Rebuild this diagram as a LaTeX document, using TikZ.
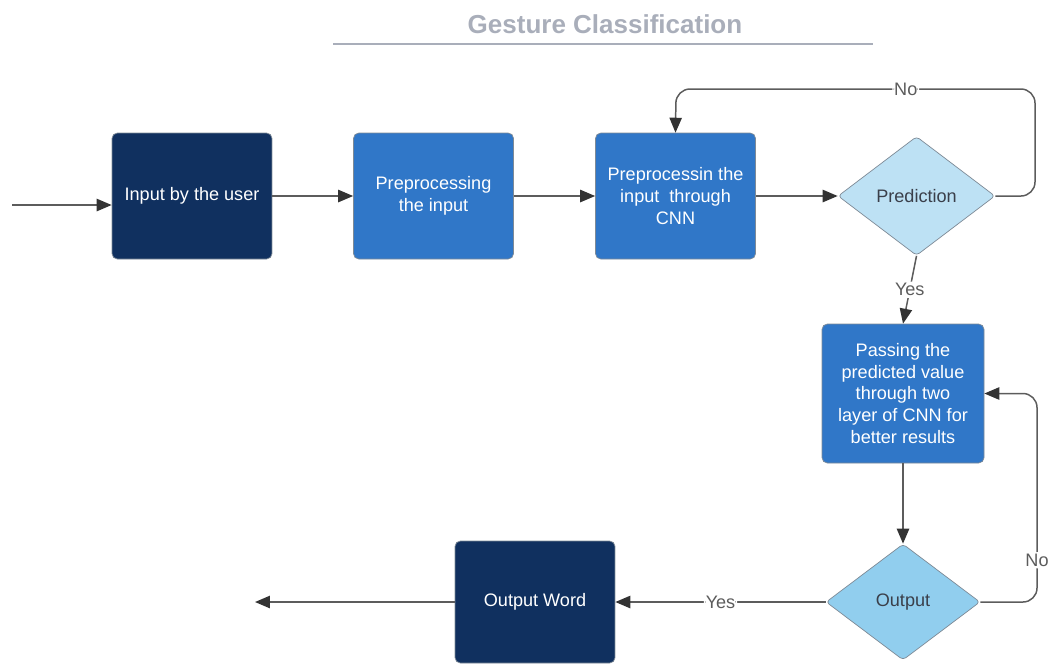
\documentclass[tikz,border=0pt]{standalone}
\usepackage{fontspec}
\setmainfont{Liberation Sans}
\usetikzlibrary{shapes.geometric,arrows.meta}
\definecolor{navy}{HTML}{10305F}
\definecolor{midblue}{HTML}{3077C8}
\definecolor{paleblue}{HTML}{BDE1F4}
\definecolor{skyblue}{HTML}{91CEEE}
\definecolor{titlegray}{HTML}{A9AEBA}
\definecolor{linegray}{HTML}{5C5C5C}
\definecolor{tipgray}{HTML}{333333}
\definecolor{edgegray}{HTML}{7E8A96}
\definecolor{darktext}{HTML}{3A3F4A}
\begin{document}
\begin{tikzpicture}[x=0.02cm,y=-0.02cm,
	every node/.style={font=\fontsize{10.3}{12.5}\selectfont,align=center},
	box/.style={rectangle,rounded corners=3pt,draw=edgegray,text=white,
		minimum width=3.2cm,minimum height=2.52cm,inner sep=2pt},
	navybox/.style={box,fill=navy},
	bluebox/.style={box,fill=midblue},
	decision/.style={diamond,rounded corners=2pt,draw=edgegray,inner sep=0,text=darktext},
	flow/.style={draw=linegray,line width=0.85pt,rounded corners=8pt,
		-{Triangle[length=8.5pt,width=7pt,color=tipgray]}},
	lbl/.style={fill=white,inner sep=1pt,text=linegray}]
\useasboundingbox (0,0) rectangle (1053,664);

% title
\node[font=\bfseries\fontsize{14.8}{17}\selectfont,text=titlegray] (title) at (605,24) {Gesture Classification};
\draw[titlegray,line width=1.1pt] (333,44) -- (873,44);

% blocks
\node[navybox] (user) at (192,196) {Input by the user};
\node[bluebox] (prep) at (433.5,196) {Preprocessing\\the input};
\node[bluebox] (cnn) at (675.5,196) {Preprocessin the\\input\ \ through\\CNN};
\node[decision,fill=paleblue,minimum width=3.14cm,minimum height=2.38cm] (pred) at (916.5,196) {Prediction};
\node[bluebox,minimum width=3.24cm,minimum height=2.78cm] (pass) at (903,393.5)
	{Passing the\\predicted value\\through two\\layer of CNN for\\better results};
\node[decision,fill=skyblue,minimum width=3.08cm,minimum height=2.32cm] (out) at (903,602) {Output};
\node[navybox,minimum height=2.44cm] (word) at (535,602) {Output Word};

\coordinate (start) at (12,205);
\coordinate (predturn) at (1035,196);
\coordinate (topturn) at (676,89);
\coordinate (outturn) at (1037,602);
\coordinate (finish) at (255,602);

% connectors
\draw[flow] (start) -- (start -| user.west);
\draw[flow] (user) -- (prep);
\draw[flow] (prep) -- (cnn);
\draw[flow] (cnn) -- (pred);
\draw[flow] (pred.east) -- (predturn) |- node[lbl,pos=0.68]{No} (topturn) -- (cnn.north);
\draw[flow] (pred.south) -- node[lbl]{Yes} (pass.north);
\draw[flow] (pass) -- (out);
\draw[flow] (out.east) -- (outturn) |- node[lbl,pos=0.1]{No} (pass.east);
\draw[flow] (out.west) -- node[lbl]{Yes} (word.east);
\draw[flow] (word.west) -- (finish);
\end{tikzpicture}
\end{document}
